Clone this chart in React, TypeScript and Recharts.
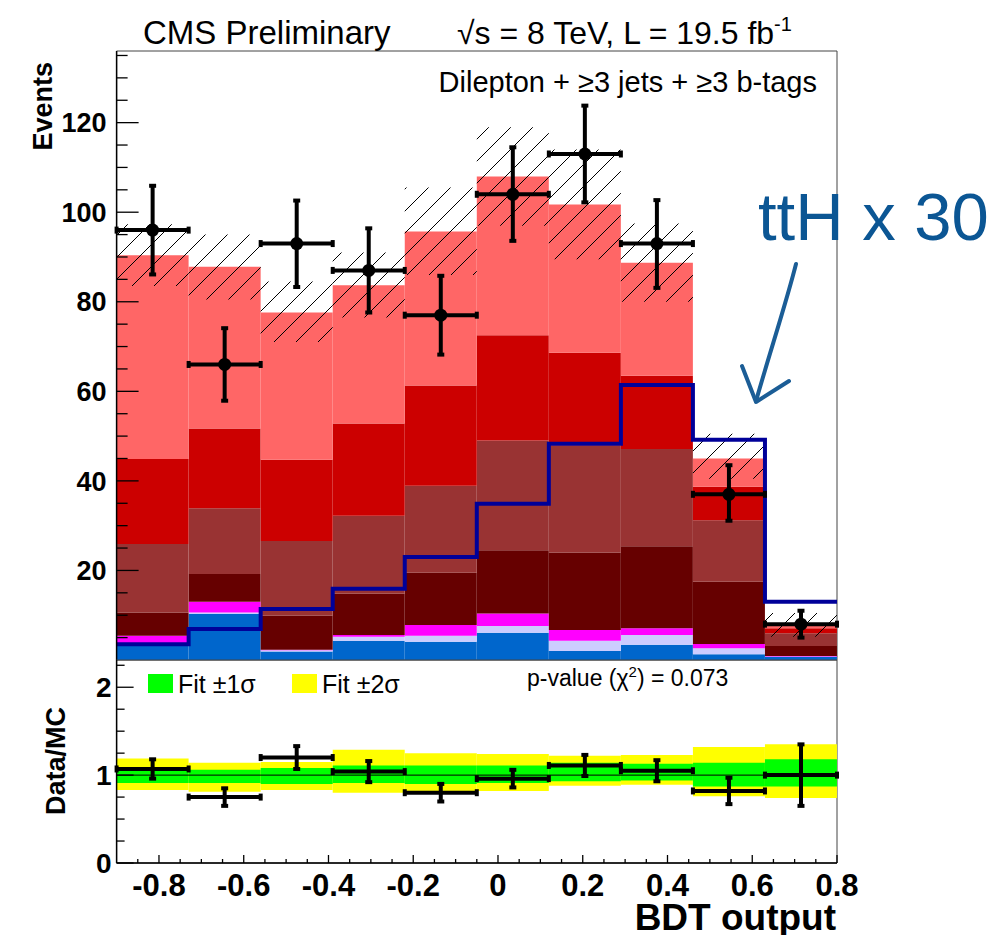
import React from 'react';
import {
  ComposedChart,
  Bar,
  Line,
  Scatter,
  ErrorBar,
  XAxis,
  YAxis,
  ReferenceLine,
  ReferenceArea,
} from 'recharts';

const FONT = '"Liberation Sans", Arial, Helvetica, sans-serif';

// BDT output binning: 10 bins from -0.9 to 0.8
const binEdges = [-0.9, -0.73, -0.56, -0.39, -0.22, -0.05, 0.12, 0.29, 0.46, 0.63, 0.8];

// background yields per bin, stacked bottom -> top
const ewk = [3.5, 10.3, 1.9, 4.3, 4.1, 6.1, 2.0, 3.4, 1.3, 0.7];
const singleTop = [0.1, 0.3, 0.3, 0.9, 1.3, 1.5, 2.3, 2.2, 1.3, 0.1];
const ttV = [1.8, 2.4, 0.1, 0.4, 2.4, 2.8, 2.4, 1.5, 1.0, 0.1];
const ttbb = [5.2, 6.2, 7.6, 9.2, 11.7, 14.1, 17.3, 18.3, 13.9, 2.2];
const ttb = [15.3, 14.7, 16.7, 17.4, 19.4, 24.5, 23.9, 21.7, 13.7, 2.9];
const ttcc = [19.0, 17.8, 18.1, 20.6, 22.4, 23.5, 20.7, 16.4, 7.5, 1.1];
const ttlf = [45.5, 36.1, 32.9, 30.9, 34.4, 35.5, 33.1, 25.2, 6.3, 0.7];

// hatched band: total background uncertainty
const bkgLow = [83.5, 80.5, 71.0, 76.5, 86.0, 97.0, 89.5, 80.0, 40.5, 5.2];
const bkgHigh = [97.3, 95.0, 84.5, 91.0, 105.5, 119.0, 114.0, 97.5, 50.5, 10.5];

// signal, scaled x30 (open histogram)
const ttH30 = [3.5, 6.9, 11.4, 15.9, 23.0, 34.9, 48.3, 61.4, 49.2, 13.0];

// observed data
const dataCounts = [96, 66, 93, 87, 77, 104, 113, 93, 37, 8];
const dataErrDown = [9.9, 8.1, 9.7, 9.4, 8.8, 10.4, 10.8, 9.9, 5.9, 3.0];
const dataErrUp = [9.9, 8.1, 9.6, 9.4, 8.8, 10.5, 10.8, 9.7, 6.5, 3.0];

// ratio panel
const ratio = [1.07, 0.75, 1.2, 1.04, 0.8, 0.96, 1.11, 1.05, 0.82, 1.0];
const ratioErr = [0.11, 0.1, 0.13, 0.12, 0.1, 0.1, 0.12, 0.12, 0.15, 0.35];
const fit2Low = [0.83, 0.81, 0.83, 0.8, 0.8, 0.82, 0.88, 0.89, 0.76, 0.74];
const fit2High = [1.19, 1.14, 1.15, 1.29, 1.25, 1.24, 1.22, 1.23, 1.32, 1.35];
const fit1Low = [0.91, 0.91, 0.9, 0.91, 0.9, 0.91, 0.93, 0.94, 0.87, 0.87];
const fit1High = [1.09, 1.06, 1.08, 1.11, 1.11, 1.11, 1.14, 1.13, 1.14, 1.18];

// ticks
const xMajor = [-0.8, -0.6, -0.4, -0.2, 0, 0.2, 0.4, 0.6, 0.8];
const xLabels = ['-0.8', '-0.6', '-0.4', '-0.2', '0', '0.2', '0.4', '0.6', '0.8'];
const xTicks = Array.from({ length: 34 }, (_, i) => (i - 17) / 20);
const mainYMajor = [20, 40, 60, 80, 100, 120];
const mainYLabels = ['20', '40', '60', '80', '100', '120'];
const mainYTicks = Array.from({ length: 27 }, (_, i) => (i + 1) * 5);
const ratioYMajor = [0, 1, 2];
const ratioYLabels = ['0', '1', '2'];
const ratioYTicks = Array.from({ length: 10 }, (_, i) => i * 0.25);

const W = 1006;
const PLOT_L = 116.6;
const PLOT_R = 837;

const mainRows = binEdges.slice(0, -1).map((_, i) => ({
  bin: String(i),
  ewk: ewk[i],
  singleTop: singleTop[i],
  ttV: ttV[i],
  ttbb: ttbb[i],
  ttb: ttb[i],
  ttcc: ttcc[i],
  ttlf: ttlf[i],
  band: [bkgLow[i], bkgHigh[i]],
}));

const halfWidth = (i: number) => (binEdges[i + 1] - binEdges[i]) / 2;
const center = (i: number) => (binEdges[i] + binEdges[i + 1]) / 2;

const dataPts = dataCounts.map((v, i) => ({
  x: center(i),
  y: v,
  ex: halfWidth(i),
  ey: [dataErrDown[i], dataErrUp[i]],
}));

const ttHStep = binEdges.map((e, i) => ({ x: e, y: ttH30[Math.min(i, ttH30.length - 1)] }));

const ratioRows = binEdges.slice(0, -1).map((_, i) => ({
  bin: String(i),
  fit2: [fit2Low[i], fit2High[i]],
  fit1: [fit1Low[i], fit1High[i]],
}));

const ratioPts = ratio.map((v, i) => ({ x: center(i), y: v, ex: halfWidth(i), ey: ratioErr[i] }));

type TickOpts = {
  side: 'left' | 'bottom' | 'top';
  majors: number[];
  labels?: string[];
  majorLen: number;
  minorLen: number;
  offset?: number;
  fontSize?: number;
};

const makeTick = (o: TickOpts) => (props: any) => {
  const { x, y, payload } = props;
  const v = Number(payload.value);
  const mi = o.majors.findIndex((m) => Math.abs(m - v) < 1e-6);
  const len = mi >= 0 ? o.majorLen : o.minorLen;
  let line;
  if (o.side === 'left') line = <line x1={x} y1={y} x2={x + len} y2={y} stroke="#000" strokeWidth={1.3} />;
  else if (o.side === 'bottom') line = <line x1={x} y1={y} x2={x} y2={y - len} stroke="#000" strokeWidth={1.3} />;
  else line = <line x1={x} y1={y} x2={x} y2={y + len} stroke="#000" strokeWidth={1.3} />;
  let label = null;
  if (mi >= 0 && o.labels) {
    if (o.side === 'left') {
      label = (
        <text x={x - (o.offset || 0)} y={y} dy="0.36em" textAnchor="end" fontFamily={FONT} fontWeight="bold" fontSize={o.fontSize} fill="#000">
          {o.labels[mi]}
        </text>
      );
    } else {
      label = (
        <text x={x} y={y + (o.offset || 0)} textAnchor="middle" fontFamily={FONT} fontWeight="bold" fontSize={o.fontSize} fill="#000">
          {o.labels[mi]}
        </text>
      );
    }
  }
  return (
    <g>
      {line}
      {label}
    </g>
  );
};

const mainXTick = makeTick({ side: 'bottom', majors: xMajor, majorLen: 17, minorLen: 8 });
const mainYTick = makeTick({ side: 'left', majors: mainYMajor, labels: mainYLabels, majorLen: 22, minorLen: 11, offset: 10, fontSize: 27 });
const ratioXTick = makeTick({ side: 'bottom', majors: xMajor, labels: xLabels, majorLen: 8, minorLen: 4, offset: 33, fontSize: 31 });
const ratioTopTick = makeTick({ side: 'top', majors: xMajor, majorLen: 6, minorLen: 4 });
const ratioYTick = makeTick({ side: 'left', majors: ratioYMajor, labels: ratioYLabels, majorLen: 17, minorLen: 8, offset: 5, fontSize: 28 });

const DataMarker = (props: any) => <circle cx={props.cx} cy={props.cy} r={6.5} fill="#000" />;
const NoMarker = () => <g />;

const MainPanel = () => (
  <ComposedChart
    width={W}
    height={662}
    data={mainRows}
    margin={{ top: 51, right: W - PLOT_R, bottom: 2, left: 0 }}
    barCategoryGap={0}
    barGap={0}
  >
    <XAxis
      xAxisId="num"
      dataKey="x"
      type="number"
      domain={[-0.9, 0.8]}
      allowDataOverflow
      ticks={xTicks}
      interval={0}
      height={0}
      tickSize={0}
      tickMargin={0}
      tickLine={false}
      axisLine={{ stroke: '#000', strokeWidth: 1.5 }}
      tick={mainXTick}
    />
    <XAxis xAxisId="cat" dataKey="bin" type="category" hide height={0} />
    <XAxis xAxisId="cat2" dataKey="bin" type="category" hide height={0} />
    <YAxis
      yAxisId="y"
      type="number"
      domain={[0, 136]}
      allowDataOverflow
      ticks={mainYTicks}
      interval={0}
      width={PLOT_L}
      tickSize={0}
      tickMargin={0}
      tickLine={false}
      axisLine={{ stroke: '#000', strokeWidth: 1.5 }}
      tick={mainYTick}
    />
    <Bar xAxisId="cat" yAxisId="y" stackId="bkg" dataKey="ewk" fill="#0066cc" isAnimationActive={false} />
    <Bar xAxisId="cat" yAxisId="y" stackId="bkg" dataKey="singleTop" fill="#ccccff" isAnimationActive={false} />
    <Bar xAxisId="cat" yAxisId="y" stackId="bkg" dataKey="ttV" fill="#ff00ff" isAnimationActive={false} />
    <Bar xAxisId="cat" yAxisId="y" stackId="bkg" dataKey="ttbb" fill="#660000" isAnimationActive={false} />
    <Bar xAxisId="cat" yAxisId="y" stackId="bkg" dataKey="ttb" fill="#993333" isAnimationActive={false} />
    <Bar xAxisId="cat" yAxisId="y" stackId="bkg" dataKey="ttcc" fill="#cc0000" isAnimationActive={false} />
    <Bar xAxisId="cat" yAxisId="y" stackId="bkg" dataKey="ttlf" fill="#ff6666" isAnimationActive={false} />
    <Bar xAxisId="cat2" yAxisId="y" dataKey="band" fill="url(#hatch)" isAnimationActive={false} />
    <Line
      xAxisId="num"
      yAxisId="y"
      data={ttHStep}
      dataKey="y"
      type="stepAfter"
      stroke="#000099"
      strokeWidth={4}
      dot={false}
      isAnimationActive={false}
    />
    <Scatter xAxisId="num" yAxisId="y" data={dataPts} dataKey="y" shape={DataMarker} isAnimationActive={false}>
      <ErrorBar dataKey="ex" direction="x" width={3.5} stroke="#000" strokeWidth={4} isAnimationActive={false} />
      <ErrorBar dataKey="ey" direction="y" width={3.5} stroke="#000" strokeWidth={4} isAnimationActive={false} />
    </Scatter>
    <ReferenceArea xAxisId="num" yAxisId="y" x1={-0.9} x2={0.8} y1={0} y2={136} fill="none" stroke="#444" strokeWidth={1} />
  </ComposedChart>
);

const RatioPanel = () => (
  <ComposedChart
    width={W}
    height={295}
    data={ratioRows}
    margin={{ top: 20, right: W - PLOT_R, bottom: 0, left: 0 }}
    barCategoryGap={0}
    barGap={0}
  >
    <XAxis
      xAxisId="num"
      dataKey="x"
      type="number"
      domain={[-0.9, 0.8]}
      allowDataOverflow
      ticks={xTicks}
      interval={0}
      height={72}
      tickSize={0}
      tickMargin={0}
      tickLine={false}
      axisLine={{ stroke: '#000', strokeWidth: 1.5 }}
      tick={ratioXTick}
    />
    <XAxis
      xAxisId="numTop"
      orientation="top"
      type="number"
      domain={[-0.9, 0.8]}
      allowDataOverflow
      ticks={xTicks}
      interval={0}
      height={0}
      tickSize={0}
      tickMargin={0}
      tickLine={false}
      axisLine={{ stroke: '#000', strokeWidth: 1.5 }}
      tick={ratioTopTick}
    />
    <XAxis xAxisId="cat" dataKey="bin" type="category" hide height={0} />
    <XAxis xAxisId="cat2" dataKey="bin" type="category" hide height={0} />
    <YAxis
      yAxisId="y"
      type="number"
      domain={[0, 2.31]}
      allowDataOverflow
      ticks={ratioYTicks}
      interval={0}
      width={PLOT_L}
      tickSize={0}
      tickMargin={0}
      tickLine={false}
      axisLine={{ stroke: '#000', strokeWidth: 1.5 }}
      tick={ratioYTick}
    />
    <Bar xAxisId="cat" yAxisId="y" dataKey="fit2" fill="#ffff00" isAnimationActive={false} />
    <Bar xAxisId="cat2" yAxisId="y" dataKey="fit1" fill="#00ff00" isAnimationActive={false} />
    <ReferenceLine xAxisId="num" yAxisId="y" y={1} stroke="#000" strokeWidth={1} />
    <Scatter xAxisId="num" yAxisId="y" data={ratioPts} dataKey="y" shape={NoMarker} isAnimationActive={false}>
      <ErrorBar dataKey="ex" direction="x" width={3.5} stroke="#000" strokeWidth={4} isAnimationActive={false} />
      <ErrorBar dataKey="ey" direction="y" width={3.5} stroke="#000" strokeWidth={4} isAnimationActive={false} />
    </Scatter>
    <ReferenceArea xAxisId="num" yAxisId="y" x1={-0.9} x2={0.8} y1={0} y2={2.31} fill="none" stroke="#444" strokeWidth={1} />
  </ComposedChart>
);

const Annotations = () => (
  <svg width={W} height={935} style={{ position: 'absolute', left: 0, top: 0, pointerEvents: 'none' }}>
    <g fontFamily={FONT} fill="#000">
      <text x={143} y={44} fontSize={33}>CMS Preliminary</text>
      <text x={457} y={44} fontSize={32}>
        √s = 8 TeV, L = 19.5 fb
        <tspan dy={-13} fontSize={20}>-1</tspan>
      </text>
      <text x={817} y={92} fontSize={29} textAnchor="end">Dilepton + ≥3 jets + ≥3 b-tags</text>
      <text x={52} y={62} fontSize={27} fontWeight="bold" textAnchor="end" transform="rotate(-90 52 62)">Events</text>
      <text x={65} y={761} fontSize={27} fontWeight="bold" textAnchor="middle" transform="rotate(-90 65 761)">Data/MC</text>
      <text x={836} y={930} fontSize={37} fontWeight="bold" textAnchor="end">BDT output</text>

      <rect x={148} y={674} width={25} height={19} fill="#00ff00" />
      <text x={178} y={693} fontSize={25}>Fit ±1σ</text>
      <rect x={292} y={674} width={25} height={19} fill="#ffff00" />
      <text x={322} y={693} fontSize={25}>Fit ±2σ</text>
      <text x={527} y={686} fontSize={23}>
        p-value (χ
        <tspan dy={-9} fontSize={15}>2</tspan>
        <tspan dy={9}>) = 0.073</tspan>
      </text>
    </g>
    <text x={758} y={240} fontFamily={FONT} fontSize={67} fill="#0b5694">ttH x 30</text>
    <g stroke="#1b5d96" strokeWidth={4} fill="none" strokeLinecap="round" strokeLinejoin="round">
      <path d="M796 264 C 787 300, 770 352, 756 401" />
      <path d="M742 366 L756 402 L789 381" />
    </g>
  </svg>
);

export default function App() {
  return (
    <div style={{ position: 'absolute', left: 0, top: 0, width: W, height: 935, background: '#fff' }}>
      <svg width={0} height={0} style={{ position: 'absolute' }}>
        <defs>
          <pattern id="hatch" patternUnits="userSpaceOnUse" width={22} height={22}>
            <path d="M0 22 L22 0 M-5.5 5.5 L5.5 -5.5 M16.5 27.5 L27.5 16.5" stroke="#000" strokeWidth={1} />
          </pattern>
        </defs>
      </svg>
      <div style={{ position: 'absolute', left: 0, top: 0 }}>
        <MainPanel />
      </div>
      <div style={{ position: 'absolute', left: 0, top: 640 }}>
        <RatioPanel />
      </div>
      <Annotations />
    </div>
  );
}
